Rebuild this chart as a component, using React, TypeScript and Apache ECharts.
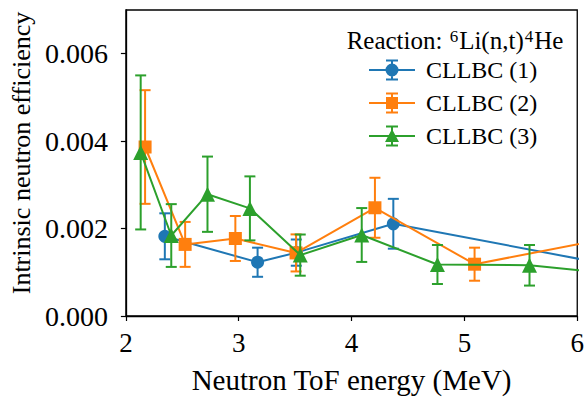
import React, { useEffect, useRef } from "react";
import * as echarts from "echarts";

// ---- data ----
const seriesNames = ["CLLBC (1)", "CLLBC (2)", "CLLBC (3)"];
const colors = ["#1f77b4", "#ff7f0e", "#2ca02c"];

const energy1 = [2.345, 3.167, 3.51, 4.37, 6.5];
const eff1 = [0.001823, 0.00123, 0.00145, 0.00211, 0.00107];
const err1 = [0.000526, 0.000333, 0.0003, 0.00057, 0.0004];

const energy2 = [2.17, 2.525, 2.97, 3.508, 4.207, 5.09, 6.4];
const eff2 = [0.003866, 0.001638, 0.001773, 0.001443, 0.002476, 0.001185, 0.001837];
const err2 = [0.0013, 0.000514, 0.000514, 0.000424, 0.000686, 0.000378, 0.0004];

const energy3 = [2.131, 2.402, 2.723, 3.099, 3.545, 4.09, 4.761, 5.577, 6.5];
const eff3 = [0.003742, 0.001841, 0.002786, 0.002462, 0.001393, 0.001853, 0.001178, 0.00116, 0.000918];
const err3 = [0.001762, 0.000718, 0.000861, 0.000732, 0.000471, 0.000616, 0.000446, 0.000464, 0.0004];

const yTicks = [0, 0.002, 0.004, 0.006];
const xTicks = [2, 3, 4, 5, 6];

const FONT = "Liberation Serif";

const legendIcons = [
  "path://M0,9.5h46v2h-46z M22,0h2v21h-2z M17,0h12v2h-12z M17,19h12v2h-12z M16.5,10.5A6.5,6.5 0 1,1 29.5,10.5A6.5,6.5 0 1,1 16.5,10.5Z",
  "path://M0,9.5h46v2h-46z M22,0h2v21h-2z M17,0h12v2h-12z M17,19h12v2h-12z M17,4.5h12v12h-12z",
  "path://M0,9.5h46v2h-46z M22,0h2v21h-2z M17,0h12v2h-12z M17,19h12v2h-12z M23,3.5L30,16.5L16,16.5Z",
];

export default function App() {
  const ref = useRef<HTMLDivElement>(null);

  useEffect(() => {
    if (!ref.current) return;
    const chart = echarts.init(ref.current, undefined, { renderer: "svg" });

    const sets = [
      { x: energy1, y: eff1, e: err1, symbol: "circle", size: 13 },
      { x: energy2, y: eff2, e: err2, symbol: "rect", size: 13 },
      { x: energy3, y: eff3, e: err3, symbol: "triangle", size: 15 },
    ];

    const series: any[] = [];
    sets.forEach((s, i) => {
      const color = colors[i];
      series.push({
        type: "custom",
        name: seriesNames[i] + " err",
        z: 2 + i,
        clip: true,
        silent: true,
        data: s.x.map((xv, k) => [xv, s.y[k] - s.e[k], s.y[k] + s.e[k]]),
        encode: { x: 0, y: [1, 2] },
        renderItem: (params: any, api: any) => {
          const xv = api.value(0);
          const lo = api.coord([xv, api.value(1)]);
          const hi = api.coord([xv, api.value(2)]);
          const cw = 5.5;
          const style = { stroke: color, lineWidth: 2, fill: "none" };
          return {
            type: "group",
            children: [
              { type: "line", shape: { x1: lo[0], y1: lo[1], x2: hi[0], y2: hi[1] }, style },
              { type: "line", shape: { x1: lo[0] - cw, y1: lo[1], x2: lo[0] + cw, y2: lo[1] }, style },
              { type: "line", shape: { x1: hi[0] - cw, y1: hi[1], x2: hi[0] + cw, y2: hi[1] }, style },
            ],
          };
        },
      });
      series.push({
        type: "line",
        name: seriesNames[i],
        z: 2 + i,
        clip: true,
        data: s.x.map((xv, k) => [xv, s.y[k]]),
        symbol: s.symbol,
        symbolSize: s.size,
        showAllSymbol: true,
        lineStyle: { color, width: 2 },
        itemStyle: { color, borderWidth: 0 },
        emphasis: { disabled: true },
      });
    });

    chart.setOption({
      animation: false,
      textStyle: { fontFamily: FONT },
      grid: {
        left: 123,
        right: 6,
        top: 10,
        bottom: 80,
        show: true,
        borderColor: "#000",
        borderWidth: 1.3,
        backgroundColor: "transparent",
      },
      title: {
        text: "Reaction: {sup|6}Li(n,t){sup|4}He",
        left: 450,
        top: 23,
        textAlign: "center",
        textStyle: {
          fontFamily: FONT,
          fontSize: 25,
          fontWeight: "normal",
          color: "#000",
          rich: {
            sup: { fontFamily: FONT, fontSize: 17, verticalAlign: "top", color: "#000", padding: [0, 1, 8, 1] },
          },
        },
      },
      legend: {
        orient: "vertical",
        left: 364,
        top: 53,
        itemWidth: 46,
        itemHeight: 21,
        itemGap: 9,
        selectedMode: false,
        data: seriesNames.map((n, i) => ({
          name: n,
          icon: legendIcons[i],
          itemStyle: { color: colors[i], borderWidth: 0 },
        })),
        textStyle: {
          fontFamily: FONT,
          fontSize: 24,
          color: "#000",
          padding: [0, 0, 0, 6],
          lineHeight: 21,
        },
      },
      xAxis: {
        type: "value",
        min: 2,
        max: 6,
        interval: 1,
        name: "Neutron ToF energy (MeV)",
        nameLocation: "middle",
        nameGap: 49,
        nameTextStyle: { fontFamily: FONT, fontSize: 29, color: "#000" },
        axisLine: { show: true, onZero: false, lineStyle: { color: "#000", width: 1.3 } },
        axisTick: { show: true, inside: false, length: 5, lineStyle: { color: "#000", width: 1.2 }, customValues: xTicks },
        axisLabel: { fontFamily: FONT, fontSize: 27, color: "#000", margin: 13, customValues: xTicks },
        splitLine: { show: false },
      },
      yAxis: {
        type: "value",
        min: 0,
        max: 0.007,
        interval: 0.002,
        name: "Intrinsic neutron efficiency",
        nameLocation: "middle",
        nameGap: 86,
        nameTextStyle: { fontFamily: FONT, fontSize: 26, color: "#000", padding: [0, 0, 0, 20] },
        axisLine: { show: true, onZero: false, lineStyle: { color: "#000", width: 1.3 } },
        axisTick: { show: true, inside: false, length: 5, lineStyle: { color: "#000", width: 1.2 }, customValues: yTicks },
        axisLabel: {
          fontFamily: FONT,
          fontSize: 28,
          color: "#000",
          margin: 18,
          customValues: yTicks,
          formatter: (v: number) => v.toFixed(3),
        },
        splitLine: { show: false },
      },
      series,
    });

    return () => chart.dispose();
  }, []);

  return (
    <div
      ref={ref}
      style={{ position: "fixed", left: 0, top: 0, width: 587, height: 399, background: "#fff" }}
    />
  );
}
